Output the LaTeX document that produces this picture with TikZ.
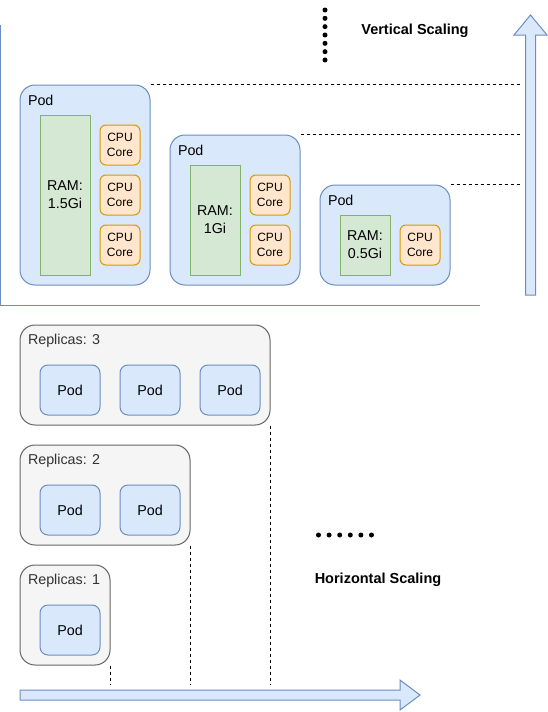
\documentclass[tikz,border=0pt]{standalone}
\usepackage{fontspec}
\setmainfont{Liberation Sans}

\definecolor{podfill}{HTML}{DAE8FC}
\definecolor{podline}{HTML}{6C8EBF}
\definecolor{ramfill}{HTML}{D5E8D4}
\definecolor{ramline}{HTML}{82B366}
\definecolor{cpufill}{HTML}{FFE6CC}
\definecolor{cpuline}{HTML}{D79B00}
\definecolor{repfill}{HTML}{F5F5F5}
\definecolor{repline}{HTML}{666666}
\definecolor{reptext}{HTML}{333333}

\begin{document}
\begin{tikzpicture}[x=1pt, y=-1pt, line width=1pt,
    txt/.style={font=\fontsize{14.3}{17.8}\selectfont, inner sep=0pt},
    pod/.style={draw=podline, fill=podfill, rounded corners=15pt},
    smallpod/.style={draw=podline, fill=podfill, rounded corners=8pt, txt, minimum width=60pt, minimum height=50pt},
    ram/.style={draw=ramline, fill=ramfill, txt, align=center, minimum width=50pt},
    cpu/.style={draw=cpuline, fill=cpufill, rounded corners=6pt, align=center, minimum width=40pt, minimum height=40pt, inner sep=0pt, font=\fontsize{12}{15}\selectfont},
    replicas/.style={draw=repline, fill=repfill, rounded corners=15pt, minimum height=100pt},
    guide/.style={line width=0.8pt, dash pattern=on 3pt off 3pt},
    bigarrow/.style={draw=podline, fill=podfill}]
    \useasboundingbox (0,0) rectangle (547,712);

    % vertical scaling
    \draw[draw=podline] (0.5,25) -- (0.5,305) -- (480,305);

    \node[pod, minimum width=130pt, minimum height=200pt] (pod1) at (85,185) {};
    \node[txt, anchor=west] (pod1label) at ([xshift=8pt,yshift=-16pt]pod1.north west) {Pod};
    \node[ram, minimum height=160pt] (ram1) at (65,195) {RAM:\\1.5Gi};
    \node[cpu] (cpu1a) at (120,145) {CPU\\Core};
    \node[cpu] (cpu1b) at (120,195) {CPU\\Core};
    \node[cpu] (cpu1c) at (120,245) {CPU\\Core};

    \node[pod, minimum width=130pt, minimum height=150pt] (pod2) at (235,210) {};
    \node[txt, anchor=west] (pod2label) at ([xshift=8pt,yshift=-16pt]pod2.north west) {Pod};
    \node[ram, minimum height=110pt] (ram2) at (215,220) {RAM:\\1Gi};
    \node[cpu] (cpu2a) at (270,195) {CPU\\Core};
    \node[cpu] (cpu2b) at (270,245) {CPU\\Core};

    \node[pod, minimum width=130pt, minimum height=100pt] (pod3) at (385,235) {};
    \node[txt, anchor=west] (pod3label) at ([xshift=8pt,yshift=-16pt]pod3.north west) {Pod};
    \node[ram, minimum height=60pt] (ram3) at (365,245) {RAM:\\0.5Gi};
    \node[cpu] (cpu3a) at (420,245) {CPU\\Core};

    \coordinate (vend) at (520,0);
    \draw[guide] (pod1.north east) -- (pod1.north east -| vend);
    \draw[guide] (pod2.north east) -- (pod2.north east -| vend);
    \draw[guide] (pod3.north east) -- (pod3.north east -| vend);

    \draw[bigarrow] (525.5,295) -- (525.5,35) -- (514,35) -- (530.5,15) -- (547,35) -- (535.5,35) -- (535.5,295) -- cycle;
    \foreach \i in {0,...,6}
        \fill (325,10+8.33*\i) circle (2.5pt);
    \node[txt, font=\fontsize{14.5}{17}\selectfont\bfseries] (vlabel) at (415,31) {Vertical Scaling};

    % horizontal scaling
    \node[replicas, minimum width=250pt] (rep3) at (145,375) {};
    \node[txt, text=reptext, anchor=west] (rep3label) at ([xshift=8pt,yshift=-16pt]rep3.north west) {Replicas: 3};
    \node[smallpod] (rep3a) at (70,390) {Pod};
    \node[smallpod] (rep3b) at (150,390) {Pod};
    \node[smallpod] (rep3c) at (230,390) {Pod};

    \node[replicas, minimum width=170pt] (rep2) at (105,495) {};
    \node[txt, text=reptext, anchor=west] (rep2label) at ([xshift=8pt,yshift=-16pt]rep2.north west) {Replicas: 2};
    \node[smallpod] (rep2a) at (70,510) {Pod};
    \node[smallpod] (rep2b) at (150,510) {Pod};

    \node[replicas, minimum width=90pt] (rep1) at (65,615) {};
    \node[txt, text=reptext, anchor=west] (rep1label) at ([xshift=8pt,yshift=-16pt]rep1.north west) {Replicas: 1};
    \node[smallpod] (rep1a) at (70,630) {Pod};

    \coordinate (hend) at (0,685);
    \draw[guide] (rep1.south east) -- (rep1.south east |- hend);
    \draw[guide] (rep2.south east) -- (rep2.south east |- hend);
    \draw[guide] (rep3.south east) -- (rep3.south east |- hend);

    \draw[bigarrow] (20,690) -- (400,690) -- (400,680) -- (420,695) -- (400,710) -- (400,700) -- (20,700) -- cycle;
    \foreach \i in {0,...,5}
        \fill (318.5+10.6*\i,535) circle (2.5pt);
    \node[txt, font=\fontsize{14.5}{17}\selectfont\bfseries] (hlabel) at (378,580) {Horizontal Scaling};
\end{tikzpicture}
\end{document}
